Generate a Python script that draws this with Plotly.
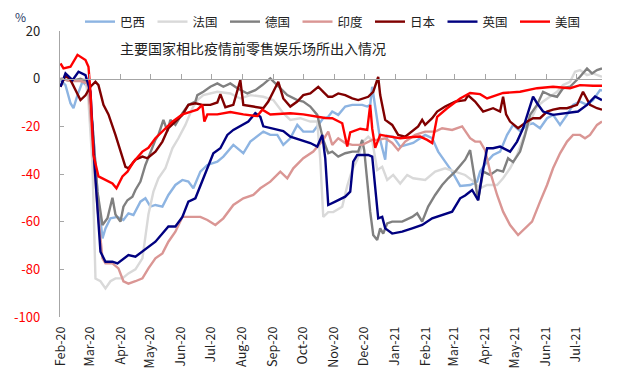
import plotly.graph_objects as go
import pandas as pd

start_date = pd.Timestamp("2020-02-15")

# day offsets from 2020-02-15 and values (% vs pre-pandemic baseline)
days_br = [0,5,10,13,17,22,27,32,37,42,45,50,57,63,68,73,80,85,90,95,102,108,115,122,128,133,140,147,157,163,173,183,190,197,203,210,217,223,230,237,243,253,258,263,268,272,278,285,292,302,307,310,312,315,320,325,327,333,340,353,365,372,378,385,392,400,410,417,420,427,433,440,447,453,460,467,473,480,487,493,500,507,513,520,527,533,540,542]
vals_br = [-0.6,-2.7,-10.3,-12.4,-6.9,-1.3,-3.4,-19.4,-47.4,-67,-62.8,-58.6,-58,-59.3,-56.5,-57.2,-51.6,-50.2,-53.7,-53,-53.7,-48.8,-44.6,-42.5,-43.2,-46,-39,-36.2,-34.8,-32.7,-27.8,-31.3,-26.4,-24.3,-22.2,-23.6,-23.6,-27.8,-25,-19.4,-22.2,-22.2,-19.4,-16.6,-16,-13.8,-15.2,-11.7,-11,-11,-11.7,-11,-3.4,-12,-25.7,-34,-24,-24.3,-28.5,-27,-23.6,-25,-30.6,-34.8,-39,-45,-44.6,-43.2,-39,-34.8,-32,-30.6,-23.6,-19.4,-22,-19.4,-18.7,-20.8,-16.6,-15.2,-19.4,-15.2,-11,-9.6,-11,-9,-4.8,-5]

days_fr = [0,10,20,25,28,32,35,40,45,50,55,62,68,75,82,85,88,93,98,105,112,118,125,132,137,143,157,170,180,190,203,213,223,230,240,250,257,260,263,268,273,282,287,292,297,303,308,312,317,322,327,333,340,347,353,365,375,385,395,405,413,420,427,437,443,450,457,463,470,477,483,490,497,503,510,515,520,527,533,542]
vals_fr = [-0.6,0,-1,0,-9.6,-36,-83.9,-85,-88,-85,-83.8,-83.8,-81.7,-80,-75.4,-67,-57,-47.4,-41.8,-37.6,-29.2,-25,-19.4,-12.4,-9,-6.9,-5.5,-6.2,-8.3,-6.9,-7.6,-9,-14.5,-17.3,-16.6,-18,-18,-34,-58,-56,-56,-53.7,-45,-38.3,-34,-26.4,-24.3,-26,-38.3,-37,-42.5,-40.4,-44,-40.4,-41.8,-42.5,-39,-37.6,-39,-40.4,-43,-46,-44.6,-44.6,-41.8,-37.6,-32,-25,-18,-11.7,-9.6,-7.6,-5.5,-2.7,-1.3,2.9,3.6,1.5,2.2,0.8]

days_de = [0,10,20,27,32,37,42,47,52,55,60,63,67,72,75,80,85,92,95,98,103,107,110,115,122,128,135,137,143,150,157,163,170,177,187,195,202,210,217,227,237,243,250,257,263,268,272,278,285,292,298,302,304,307,310,313,317,320,323,327,332,342,352,357,362,368,375,382,388,395,405,410,415,418,423,430,437,443,448,453,460,465,470,477,483,490,497,503,510,520,527,532,537,542]
vals_de = [0,-1,0,-1.3,-19.4,-47.4,-61.4,-58.6,-50,-57,-60,-53.7,-51,-49.5,-46.7,-43.2,-36.2,-29.2,-25.7,-23.6,-17.3,-22,-17.3,-19.4,-14.5,-11,-9.6,-6.9,-5.5,-3.4,-2,-3.4,-2,-4,-6.2,-4.8,-2.7,0.1,-2.7,-6.9,-9,-9.6,-11.7,-15.2,-25.7,-31.3,-30.6,-32.7,-31.3,-30.6,-30.6,-25.7,-30,-44.6,-55.8,-65.6,-67.7,-62.8,-65,-60.7,-60,-60,-58,-56.5,-60,-53.7,-48.8,-44.6,-41.8,-39,-34,-30,-43.2,-51,-39,-40.4,-38.3,-39,-33.4,-35,-30.6,-23.6,-15.2,-11,-5.5,-6.9,-7.6,-4,-3.4,0.8,4.3,2.2,3.6,4.3]

days_in = [0,10,20,27,28,32,37,42,45,52,58,63,68,75,82,88,95,102,108,115,122,130,140,147,155,163,173,183,193,200,210,220,227,233,243,253,263,268,272,278,285,292,302,312,318,325,332,338,345,355,365,375,382,392,402,410,415,420,425,430,437,443,450,458,465,472,480,487,493,500,507,513,520,525,530,537,542]
vals_in = [0,-1,-1,-2,-4,-26,-54,-75.4,-77.5,-77.5,-79.6,-85,-86,-85,-83.8,-79.6,-75.4,-73.3,-68.4,-64.2,-58,-58,-58,-59.3,-61.4,-58.6,-53,-50.2,-48.8,-46,-43.2,-39,-41.8,-37.6,-33.4,-30.6,-25.7,-22.2,-27.8,-25,-27,-27.8,-27.8,-25.7,-25.7,-25,-27,-30,-26.4,-23.6,-22.2,-22.2,-20.8,-21.5,-20,-25,-26.4,-26.4,-30,-39,-48.8,-55.8,-61.4,-65.6,-62.8,-60,-51.6,-44.6,-37.6,-31.3,-26.4,-23.6,-23.6,-25,-23.6,-19.4,-18]

days_jp = [0,5,10,15,20,25,30,35,38,43,48,55,60,65,68,75,82,87,95,102,108,115,122,128,135,142,150,157,160,165,173,180,183,193,203,208,218,223,230,237,243,250,258,263,268,272,278,285,292,298,308,313,318,320,325,332,338,345,352,358,362,365,372,377,385,395,405,408,415,423,433,440,443,446,450,458,467,473,480,487,493,500,507,517,523,530,537,542]
vals_jp = [-3.4,1.5,-0.5,-4.8,-9,-7,-3.4,-1.3,-2.7,-11,-15,-23.6,-30.6,-37,-37.6,-34,-32.7,-33.4,-30.6,-26.4,-20.8,-18,-15.2,-11,-10.3,-11,-11,-10,-6.5,-12,-11,-0.6,-11,-11.7,-12.4,-9.6,-1.3,-8.3,-11.7,-9.6,-6.9,-6.2,-3.4,-5.5,-7.6,-7.6,-6.2,-6.9,-8.3,-9,-7.6,-5.5,0.8,-6.9,-17.3,-19.4,-23.6,-24.3,-22,-20,-17.3,-19.4,-16.6,-13.8,-11.7,-9.6,-9,-7,-9.6,-13.8,-12.4,-13.8,-7.6,-15,-18,-20.8,-18,-16.6,-16.6,-13.8,-13,-12.4,-12.4,-11,-5.5,-11,-12.4,-13]

days_uk = [0,5,12,18,25,30,34,40,45,52,57,62,68,75,82,88,95,102,108,115,122,128,135,143,153,160,167,173,180,188,195,200,203,210,217,223,230,240,250,257,262,265,268,275,285,290,293,297,308,312,315,318,322,325,332,342,352,362,372,382,392,400,405,412,418,422,427,433,440,450,457,463,470,473,477,483,493,507,518,527,535,542]
vals_uk = [-3.4,2.2,-0.6,2.9,1.5,-5.5,-36,-72.6,-76.8,-76.8,-77.5,-76,-74,-74.7,-72.6,-70.5,-68.4,-65,-62,-62,-58,-51.6,-50.2,-41.8,-31.3,-29.2,-23.6,-21.5,-20,-18,-14.5,-16,-20,-20.8,-21.5,-22,-24.3,-25.7,-27,-28.5,-23.6,-33.4,-53,-51.6,-49.5,-47.4,-34.8,-32,-32,-32.7,-47.4,-58.6,-58,-62.8,-65,-64.2,-62.8,-61.4,-58.6,-57.2,-55.8,-50.2,-49,-46.7,-51,-40.4,-29.2,-29.2,-28.5,-30.6,-26.4,-20.8,-11.7,-7.5,-10.3,-13.8,-15.2,-14.5,-13.8,-11,-7.5,-9]

days_us = [0,3,10,17,25,28,30,33,38,45,52,56,62,67,73,82,88,95,102,112,122,130,137,142,144,147,157,170,183,197,202,210,230,243,257,265,272,278,282,287,290,300,307,310,312,315,320,330,340,353,360,367,372,377,387,400,410,420,427,443,460,477,493,510,520,533,542]
vals_us = [6.4,4.3,5,10,7.8,5,-5.5,-32,-41,-42.5,-44,-46,-41,-39,-35,-30.6,-29,-25,-22,-18,-15,-14,-13,-11,-18,-15,-15,-14,-15,-15.7,-13,-15,-14.5,-15,-16,-16.5,-16.6,-18,-18.7,-28.5,-22.5,-21,-21.5,-11,-21,-29,-23.6,-24.3,-25,-24.5,-24.3,-25.7,-27,-16,-12.4,-8.3,-6,-6.5,-8.3,-6,-5.5,-4,-3.4,-4,-2.7,-3,-3]

names = ["巴西", "法国", "德国", "印度", "日本", "英国", "美国"]
colors = ["#8DB4E2", "#D9D9D9", "#808080", "#DA9694", "#800000", "#000080", "#FF0000"]
all_days = [days_br, days_fr, days_de, days_in, days_jp, days_uk, days_us]
all_vals = [vals_br, vals_fr, vals_de, vals_in, vals_jp, vals_uk, vals_us]
for d, v in zip(all_days, all_vals):
    assert len(d) == len(v), (len(d), len(v))

y_ticks = [20, 0, -20, -40, -60, -80, -100]
y_ticktext = [str(v) if v >= 0 else "<span style='color:#FF0000'>%d</span>" % v for v in y_ticks]

title_text = "主要国家相比疫情前零售娱乐场所出入情况"

def to_dates(days):
    return [start_date + pd.Timedelta(days=d) for d in days]

FONT = "Noto Sans CJK SC"
fig = go.Figure()
for n, d, v, c in zip(names, all_days, all_vals, colors):
    fig.add_trace(go.Scatter(x=to_dates(d), y=v, mode="lines", name=n,
                             line=dict(color=c, width=2.4), hoverinfo="skip"))

# invisible trace to carry the zero-line axis
fig.add_trace(go.Scatter(x=to_dates(days_us), y=vals_us, mode="lines", xaxis="x2",
                         line=dict(color="rgba(0,0,0,0)"), showlegend=False, hoverinfo="skip"))

x_range = [start_date - pd.Timedelta(hours=12), start_date + pd.Timedelta(days=542)]

# page body has an 8px default margin, so the figure is sized/placed to compensate
fig.update_layout(
    width=617, height=371,
    margin=dict(l=52, r=23, t=23, b=62, autoexpand=False),
    paper_bgcolor="white", plot_bgcolor="white",
    font=dict(family=FONT, size=12, color="#222"),
    showlegend=True,
    legend=dict(orientation="h", xref="container", yref="container",
                x=72/617, y=1 - 14/371, xanchor="left", yanchor="middle",
                entrywidth=27.5, entrywidthmode="pixels",
                font=dict(size=12.5, family=FONT, color="#222"),
                bgcolor="rgba(0,0,0,0)", traceorder="normal"),
    xaxis=dict(range=x_range, showline=False, ticks="", showgrid=False, zeroline=False,
               tick0="2020-02-15", dtick="M1", tickformat="%b-%y", tickangle=-90,
               tickfont=dict(size=12.5, family=FONT, color="#222"), ticklabelstandoff=6),
    xaxis2=dict(range=x_range, overlaying="x", anchor="free", position=100/120, side="bottom",
                showline=True, linecolor="#A6A6A6", linewidth=1.3, ticks="inside", ticklen=5,
                tickcolor="#A6A6A6", tickwidth=1.3, tick0="2020-02-15", dtick="M1",
                showticklabels=False, showgrid=False, zeroline=False),
    yaxis=dict(range=[-100, 20], tickvals=y_ticks, ticktext=y_ticktext, showline=True,
               linecolor="#A6A6A6", linewidth=1.3, ticks="inside", ticklen=4, tickcolor="#A6A6A6",
               showgrid=False, zeroline=False, tickfont=dict(size=13, family=FONT, color="#222"),
               ticklabelstandoff=16),
    annotations=[
        dict(text=title_text, xref="paper", yref="paper", x=(118-60)/542, y=(317-48)/286,
             xanchor="left", yanchor="middle", showarrow=False,
             font=dict(size=14, family=FONT, color="#222")),
        dict(text="%", xref="paper", yref="paper", x=(20-60)/542, y=(317-17)/286,
             xanchor="center", yanchor="middle", showarrow=False,
             font=dict(size=12, family=FONT, color="#1F3864")),
    ],
)

fig.write_html("out.html")
